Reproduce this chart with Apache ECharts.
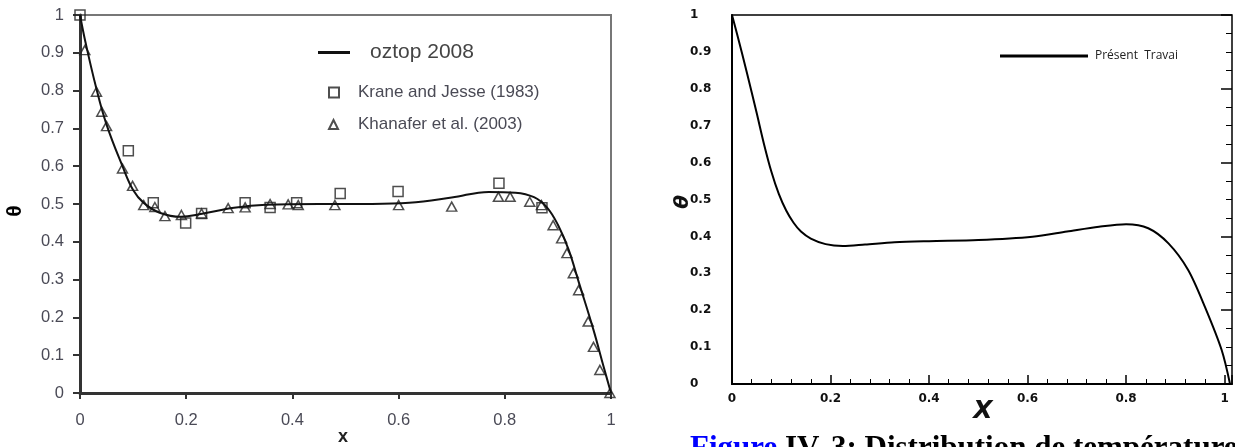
<!DOCTYPE html>
<html>
<head>
<meta charset="utf-8">
<script src="https://cdn.jsdelivr.net/npm/echarts@6/dist/echarts.min.js"></script>
<style>
  html, body { margin: 0; padding: 0; background: #fff; }
  #chart { width: 1235px; height: 447px; }
</style>
</head>
<body>
<div id="chart"></div>
<script>
// left panel: oztop 2008 curve + reference points
const oztop = [
  [0, 1.0], [0.01, 0.93], [0.03, 0.81], [0.05, 0.71], [0.08, 0.6], [0.1, 0.537],
  [0.12, 0.503], [0.15, 0.477], [0.19, 0.466], [0.23, 0.474], [0.29, 0.49],
  [0.35, 0.498], [0.45, 0.5], [0.55, 0.5], [0.62, 0.503], [0.7, 0.517],
  [0.77, 0.532], [0.82, 0.53], [0.855, 0.518], [0.88, 0.49], [0.9, 0.445],
  [0.92, 0.38], [0.94, 0.29], [0.967, 0.167], [0.986, 0.07], [1.0, 0.0]
];
const krane = [
  [0, 1.0], [0.091, 0.641], [0.138, 0.503], [0.199, 0.45], [0.229, 0.475],
  [0.311, 0.503], [0.358, 0.491], [0.408, 0.503], [0.49, 0.528], [0.599, 0.533],
  [0.789, 0.555], [0.87, 0.49]
];
const khanafer = [
  [0.009, 0.907], [0.031, 0.797], [0.041, 0.744], [0.05, 0.706], [0.08, 0.594],
  [0.099, 0.548], [0.12, 0.497], [0.141, 0.492], [0.16, 0.468], [0.191, 0.471],
  [0.229, 0.475], [0.279, 0.489], [0.311, 0.491], [0.358, 0.5], [0.392, 0.499],
  [0.411, 0.497], [0.48, 0.497], [0.6, 0.497], [0.7, 0.493], [0.788, 0.519],
  [0.81, 0.519], [0.847, 0.506], [0.869, 0.497], [0.891, 0.444], [0.907, 0.409],
  [0.917, 0.37], [0.929, 0.317], [0.939, 0.272], [0.957, 0.189], [0.967, 0.122],
  [0.979, 0.061], [0.998, 0.0]
];
// right panel: present work
const present = [
  [0, 1.0], [0.01, 0.95], [0.03, 0.845], [0.05, 0.735], [0.065, 0.65], [0.08, 0.575],
  [0.095, 0.515], [0.11, 0.47], [0.125, 0.437], [0.14, 0.413], [0.16, 0.394],
  [0.19, 0.379], [0.225, 0.374], [0.27, 0.378], [0.33, 0.384], [0.4, 0.387],
  [0.5, 0.39], [0.61, 0.399], [0.68, 0.413], [0.745, 0.426], [0.8, 0.433],
  [0.845, 0.422], [0.886, 0.381], [0.926, 0.309], [0.96, 0.209], [0.994, 0.092],
  [1.011, 0.0]
];

const leftFont = { fontFamily: "Liberation Sans", fontSize: 16.5, color: "#4a4a56" };
const rightFont = { fontFamily: "DejaVu Sans", fontSize: 12, fontWeight: "bold", color: "#111" };

const chart = echarts.init(document.getElementById("chart"));
chart.setOption({
  animation: false,
  grid: [
    { left: 80, top: 15, width: 531, height: 378, show: true, borderColor: "#777", borderWidth: 2 },
    { left: 732, top: 15, width: 500, height: 369, show: true, borderColor: "#000", borderWidth: 1.5 }
  ],
  xAxis: [
    {
      gridIndex: 0, type: "value", min: 0, max: 1, interval: 0.2,
      axisLine: { lineStyle: { color: "#333", width: 3 } },
      axisTick: { length: 6, lineStyle: { color: "#333", width: 2 } },
      axisLabel: Object.assign({ margin: 19 }, leftFont),
      splitLine: { show: false }
    },
    {
      gridIndex: 1, type: "value", min: 0, max: 1.015, interval: 0.2,
      axisLine: { lineStyle: { color: "#000", width: 2 } },
      axisTick: { inside: true, length: 9, lineStyle: { color: "#000", width: 1.5 } },
      minorTick: { show: true, splitNumber: 5, length: 5, lineStyle: { color: "#000", width: 1 } },
      axisLabel: Object.assign({
        margin: 9,
        formatter: function (v) {
          return Math.abs(v * 5 - Math.round(v * 5)) < 1e-6 ? String(Math.round(v * 5) / 5) : "";
        }
      }, rightFont),
      splitLine: { show: false }
    }
  ],
  yAxis: [
    {
      gridIndex: 0, type: "value", min: 0, max: 1, interval: 0.1,
      axisLine: { show: true, lineStyle: { color: "#333", width: 3 } },
      axisTick: { show: true, length: 7, lineStyle: { color: "#333", width: 2 } },
      axisLabel: Object.assign({ margin: 16 }, leftFont),
      splitLine: { show: false }
    },
    {
      gridIndex: 1, type: "value", min: 0, max: 1, interval: 0.1,
      axisLine: { show: true, lineStyle: { color: "#000", width: 2 } },
      axisTick: { show: false },
      axisLabel: Object.assign({ margin: 42, align: "left" }, rightFont),
      splitLine: { show: false }
    },
    {
      // major/minor ticks only
      gridIndex: 1, type: "value", min: 0, max: 1, interval: 0.2,
      axisLine: { show: false },
      axisTick: { show: true, inside: true, length: 11, lineStyle: { color: "#000", width: 1.5 } },
      minorTick: { show: true, splitNumber: 4, length: 6, lineStyle: { color: "#000", width: 1 } },
      axisLabel: { show: false },
      splitLine: { show: false }
    }
  ],
  legend: [
    {
      left: 318, top: 42, padding: 0, itemWidth: 32, itemHeight: 3,
      data: [{ name: "oztop 2008", icon: "rect" }],
      textStyle: { fontFamily: "Liberation Sans", fontSize: 21, color: "#444", padding: [0, 0, 10, 15] }
    },
    {
      left: 328, top: 84, padding: 0, itemWidth: 10, itemHeight: 10,
      data: ["Krane and Jesse (1983)"],
      textStyle: { fontFamily: "Liberation Sans", fontSize: 17, color: "#4a4a55", padding: [0, 0, 0, 14] }
    },
    {
      left: 328, top: 116, padding: 0, itemWidth: 9, itemHeight: 9,
      data: ["Khanafer et al. (2003)"],
      textStyle: { fontFamily: "Liberation Sans", fontSize: 17, color: "#4a4a55", padding: [0, 0, 0, 15] }
    },
    {
      left: 1000, top: 50, padding: 0, itemWidth: 88, itemHeight: 3,
      data: [{ name: "Présent  Travai", icon: "rect" }],
      textStyle: { fontFamily: "Open Sans", fontSize: 12, color: "#222", padding: [0, 0, 4, 2] }
    }
  ],
  series: [
    {
      name: "oztop 2008", type: "line", xAxisIndex: 0, yAxisIndex: 0,
      data: oztop, smooth: 0.4, symbol: "none",
      lineStyle: { color: "#111", width: 2 }, itemStyle: { color: "#111" }
    },
    {
      name: "Krane and Jesse (1983)", type: "scatter", xAxisIndex: 0, yAxisIndex: 0,
      data: krane, symbol: "rect", symbolSize: 10,
      itemStyle: { color: "rgba(255,255,255,0)", borderColor: "#222", borderWidth: 1.5 }
    },
    {
      name: "Khanafer et al. (2003)", type: "scatter", xAxisIndex: 0, yAxisIndex: 0,
      data: khanafer, symbol: "triangle", symbolSize: [10, 9],
      itemStyle: { color: "rgba(255,255,255,0)", borderColor: "#222", borderWidth: 1.5 }
    },
    {
      name: "Présent  Travai", type: "line", xAxisIndex: 1, yAxisIndex: 1,
      data: present, smooth: 0.3, symbol: "none",
      lineStyle: { color: "#000", width: 2 }, itemStyle: { color: "#000" }
    }
  ],
  graphic: [
    {
      type: "text", x: 15, y: 211, rotation: Math.PI / 2,
      style: { text: "θ", font: "bold 21px 'Liberation Sans'", fill: "#000", align: "center", verticalAlign: "middle" }
    },
    {
      type: "text", x: 343, y: 437,
      style: { text: "x", font: "bold 18px 'Liberation Sans'", fill: "#222", align: "center", verticalAlign: "middle" }
    },
    {
      type: "text", x: 683, y: 202, rotation: Math.PI / 2,
      style: { text: "θ", font: "italic bold 20px 'DejaVu Sans'", fill: "#111", align: "center", verticalAlign: "middle" }
    },
    {
      type: "text", x: 983, y: 411,
      style: { text: "X", font: "italic bold 25px 'DejaVu Sans'", fill: "#111", align: "center", verticalAlign: "middle" }
    },
    {
      // figure caption, cut off by the window like in the source
      type: "text", x: 690, y: 433,
      style: {
        text: "{b|Figure}{k|\u00a0IV.\u00a03:\u00a0Distribution de température}",
        verticalAlign: "top",
        rich: {
          b: { font: "bold 31px 'Liberation Serif'", fill: "#0000ff" },
          k: { font: "bold 31px 'Liberation Serif'", fill: "#000" }
        }
      }
    }
  ]
});
</script>
</body>
</html>
